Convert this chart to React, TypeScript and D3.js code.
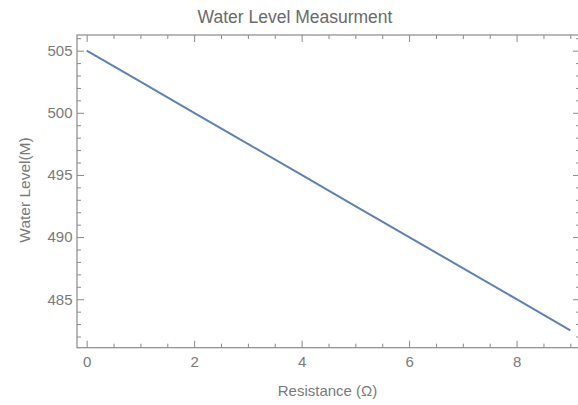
import React, { useRef, useEffect } from 'react';
import * as d3 from 'd3';

// Resistance (ohm) and the water level
const resistance = [0, 1, 2, 3, 4, 5, 6, 7, 8, 9];
const waterLevel = [505, 502.5, 500, 497.5, 495, 492.5, 490, 487.5, 485, 482.5];

const xTicks = [0, 2, 4, 6, 8];
const xMinorTicks = [0.5, 1, 1.5, 2.5, 3, 3.5, 4.5, 5, 5.5, 6.5, 7, 7.5, 8.5, 9];
const yTicks = [485, 490, 495, 500, 505];
const yMinorTicks = [482, 483, 484, 486, 487, 488, 489, 491, 492, 493, 494, 496, 497, 498, 499, 501, 502, 503, 504, 506];

const title = 'Water Level Measurment';
const xLabel = 'Resistance (\u03a9)';
const yLabel = 'Water Level(M)';

const App = () => {
  const svgRef = useRef<SVGSVGElement>(null);

  useEffect(() => {
    const svg = d3.select(svgRef.current);
    svg.selectAll('*').remove();

    const width = 578;
    const height = 405;
    const frame = { left: 77, right: 580, top: 35, bottom: 347.7 };
    const font = '"Liberation Sans", Arial, sans-serif';
    const frameColor = '#8a8a8a';
    const labelColor = '#7a7a7a';

    const x = d3.scaleLinear().domain([-0.18, 9.18]).range([frame.left, frame.right]);
    const y = d3.scaleLinear().domain([481.1, 506.26]).range([frame.bottom, frame.top]);

    svg.attr('width', width).attr('height', height);

    // plot frame
    svg.append('rect')
      .attr('x', frame.left).attr('y', frame.top)
      .attr('width', frame.right - frame.left).attr('height', frame.bottom - frame.top)
      .attr('fill', 'none').attr('stroke', frameColor).attr('stroke-width', 1.2);

    const styleAxis = (g, size) => {
      g.select('.domain').remove();
      g.selectAll('line').attr('stroke', frameColor).attr('stroke-width', 1);
      g.selectAll('text')
        .attr('fill', labelColor)
        .style('font-family', font)
        .style('font-size', size + 'px');
    };

    // bottom axis
    svg.append('g').attr('transform', `translate(0,${frame.bottom})`)
      .call(d3.axisBottom(x).tickValues(xTicks).tickSize(-7).tickPadding(8.5).tickFormat(d3.format('d')))
      .call(g => styleAxis(g, 15));
    svg.append('g').attr('transform', `translate(0,${frame.bottom})`)
      .call(d3.axisBottom(x).tickValues(xMinorTicks).tickSize(-4).tickFormat(() => ''))
      .call(g => styleAxis(g, 15));

    // top axis (mirrored ticks)
    svg.append('g').attr('transform', `translate(0,${frame.top})`)
      .call(d3.axisTop(x).tickValues(xTicks).tickSize(-7).tickFormat(() => ''))
      .call(g => styleAxis(g, 15));
    svg.append('g').attr('transform', `translate(0,${frame.top})`)
      .call(d3.axisTop(x).tickValues(xMinorTicks).tickSize(-4).tickFormat(() => ''))
      .call(g => styleAxis(g, 15));

    // left axis
    svg.append('g').attr('transform', `translate(${frame.left},0)`)
      .call(d3.axisLeft(y).tickValues(yTicks).tickSize(-7).tickPadding(4.5).tickFormat(d3.format('d')))
      .call(g => styleAxis(g, 15));
    svg.append('g').attr('transform', `translate(${frame.left},0)`)
      .call(d3.axisLeft(y).tickValues(yMinorTicks).tickSize(-4).tickFormat(() => ''))
      .call(g => styleAxis(g, 15));

    // right axis (mirrored ticks)
    svg.append('g').attr('transform', `translate(${frame.right},0)`)
      .call(d3.axisRight(y).tickValues(yTicks).tickSize(-7).tickFormat(() => ''))
      .call(g => styleAxis(g, 15));
    svg.append('g').attr('transform', `translate(${frame.right},0)`)
      .call(d3.axisRight(y).tickValues(yMinorTicks).tickSize(-4).tickFormat(() => ''))
      .call(g => styleAxis(g, 15));

    // data line
    const line = d3.line<number>()
      .x((d, i) => x(resistance[i]))
      .y(d => y(d));
    svg.append('path')
      .datum(waterLevel)
      .attr('d', line)
      .attr('fill', 'none')
      .attr('stroke', '#5e81b5')
      .attr('stroke-width', 2);

    // title and axis labels
    svg.append('text')
      .attr('x', 295).attr('y', 23)
      .attr('text-anchor', 'middle')
      .attr('fill', '#6a6a6a')
      .style('font-family', font).style('font-size', '17.5px')
      .text(title);

    svg.append('text')
      .attr('x', 327.5).attr('y', 396)
      .attr('text-anchor', 'middle')
      .attr('fill', labelColor)
      .style('font-family', font).style('font-size', '15px')
      .text(xLabel);

    svg.append('text')
      .attr('transform', 'translate(30,190) rotate(-90)')
      .attr('text-anchor', 'middle')
      .attr('fill', labelColor)
      .style('font-family', font).style('font-size', '15.5px')
      .text(yLabel);
  }, []);

  return (
    <svg ref={svgRef} style={{ position: 'absolute', left: 0, top: 0, background: '#fff' }} />
  );
};

export default App;
